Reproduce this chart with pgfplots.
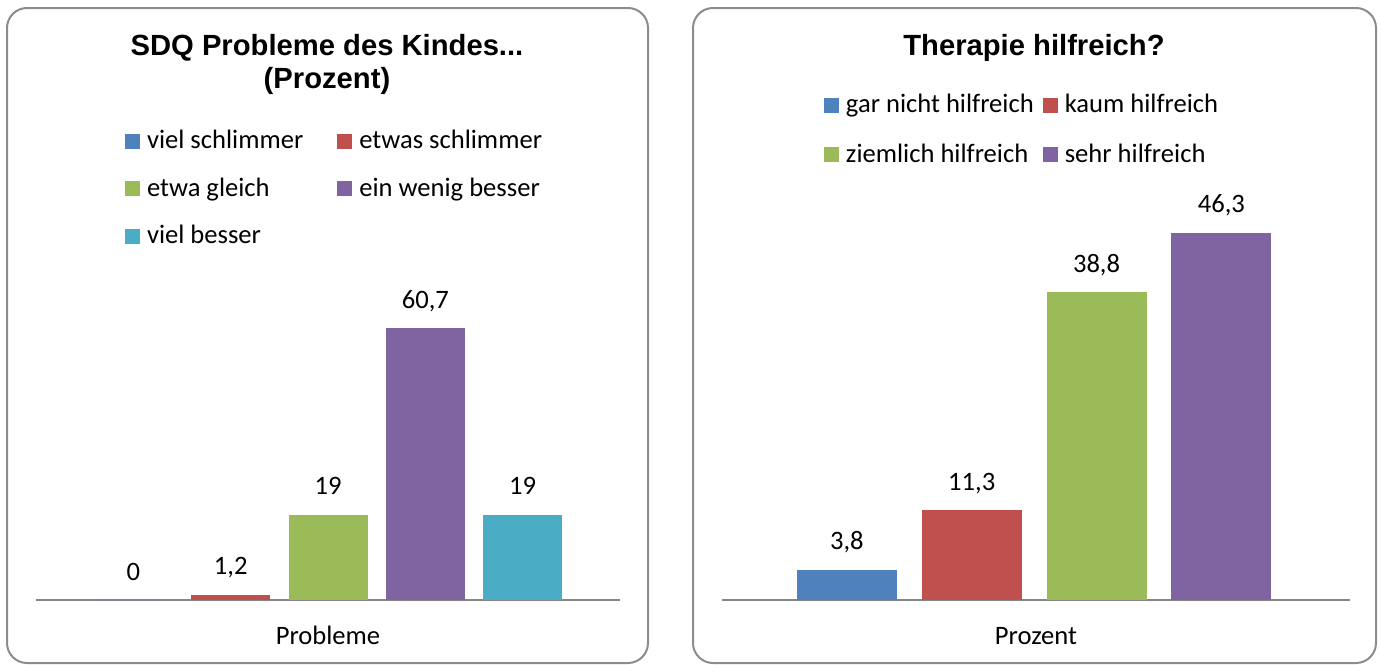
\documentclass[border=0pt]{standalone}
\usepackage{pgfplots}
\pgfplotsset{compat=1.18}
\usepackage{fontspec}
\setmainfont{Carlito}
\newfontfamily\titlefont{Liberation Sans}
\definecolor{cblue}{HTML}{4F81BD}
\definecolor{cred}{HTML}{C0504D}
\definecolor{cgreen}{HTML}{9BBB59}
\definecolor{cpurple}{HTML}{8064A2}
\definecolor{ccyan}{HTML}{4BACC6}
\definecolor{axgray}{HTML}{868686}
\definecolor{bordergray}{HTML}{8C8C8C}
\newcommand{\bodyfont}{\fontsize{13.3}{16}\selectfont}
\newcommand{\ttlfont}{\titlefont\bfseries\fontsize{14.6}{16}\selectfont}
\pgfplotsset{
  sq/.style={ybar, bar shift=0pt, fill=#1, draw=none,
    legend image code/.code={\fill[#1] (0pt,-3.5pt) rectangle (7.5pt,4pt); \path[fill=none,draw=none] (0pt,-3.5pt) rectangle (11pt,4pt);}},
  mypanel/.style={
    scale only axis,
    ymin=0,
    axis x line=bottom, axis y line=none,
    axis line style={-, draw=axgray, line width=1pt},
    xtick=\empty, ytick=\empty,
    clip=false,
    nodes near coords,
    nodes near coords style={font=\bodyfont, anchor=base, yshift=10pt,
      /pgf/number format/use comma, /pgf/number format/assume math mode=true},
    xlabel style={at={(axis description cs:0.5,0)}, anchor=base, yshift=-22pt, font=\bodyfont},
    legend cell align=left,
  }
}
\begin{document}
\begin{tikzpicture}
\path[use as bounding box] (0,0) rectangle (690.5pt,-332pt);
\draw[bordergray, line width=1pt, rounded corners=10pt] (3.5pt,-4pt) rectangle (324pt,-331.5pt);
\draw[bordergray, line width=1pt, rounded corners=10pt] (346.5pt,-4pt) rectangle (688pt,-331.5pt);
\node[font=\ttlfont, anchor=base, inner sep=0pt] at (163.5pt,-27.5pt) {SDQ Probleme des Kindes...};
\node[font=\ttlfont, anchor=base, inner sep=0pt] at (163.5pt,-44pt) {(Prozent)};
\node[font=\ttlfont, anchor=base, inner sep=0pt] at (517pt,-27.5pt) {Therapie hilfreich?};

\begin{axis}[mypanel,
  at={(18pt,-300pt)}, anchor=south west,
  width=292pt, height=156.8pt,
  xmin=-1, xmax=5, ymax=70,
  bar width=39.5pt,
  xlabel={Probleme},
  legend style={at={(axis description cs:0.1524,1.502)}, anchor=north west, draw=none, fill=none, inner sep=0pt,
    outer sep=0pt, font=\bodyfont, row sep=10.7pt, column sep=0pt,
    nodes={inner sep=0pt, text height=10pt, text depth=3pt},
    /tikz/every even column/.append style={column sep=17pt}},
  legend columns=2,
]
\addplot[sq=cblue] coordinates {(0,0)};
\addlegendentry{viel schlimmer}
\addplot[sq=cred] coordinates {(1,1.2)};
\addlegendentry{etwas schlimmer}
\addplot[sq=cgreen] coordinates {(2,19)};
\addlegendentry{etwa gleich}
\addplot[sq=cpurple] coordinates {(3,60.7)};
\addlegendentry{ein wenig besser}
\addplot[sq=ccyan] coordinates {(4,19)};
\addlegendentry{viel besser}
\end{axis}

\begin{axis}[mypanel,
  at={(361pt,-300pt)}, anchor=south west,
  width=314pt, height=198.25pt,
  xmin=-1, xmax=4.03, ymax=50,
  bar width=50pt,
  xlabel={Prozent},
  legend style={at={(axis description cs:0.1624,1.279)}, anchor=north west, draw=none, fill=none, inner sep=0pt,
    outer sep=0pt, font=\bodyfont, row sep=11.7pt, column sep=0pt,
    nodes={inner sep=0pt, text height=10pt, text depth=3pt},
    /tikz/every even column/.append style={column sep=4.5pt}},
  legend columns=2,
]
\addplot[sq=cblue] coordinates {(0,3.8)};
\addlegendentry{gar nicht hilfreich}
\addplot[sq=cred] coordinates {(1,11.3)};
\addlegendentry{kaum hilfreich}
\addplot[sq=cgreen] coordinates {(2,38.8)};
\addlegendentry{ziemlich hilfreich}
\addplot[sq=cpurple] coordinates {(3,46.3)};
\addlegendentry{sehr hilfreich}
\end{axis}
\end{tikzpicture}
\end{document}
